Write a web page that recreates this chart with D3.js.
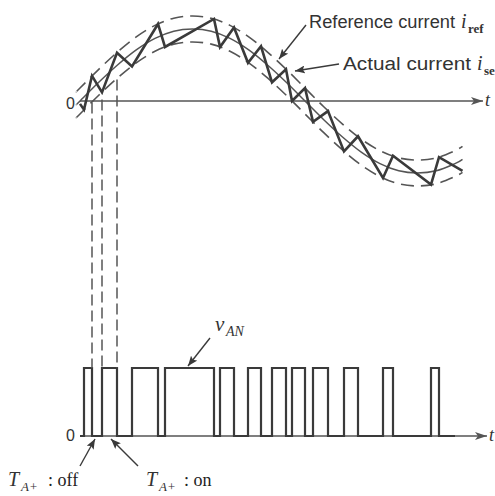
<!DOCTYPE html>
<html><head><meta charset="utf-8">
<script src="https://cdn.jsdelivr.net/npm/d3@7"></script>
<style>body{margin:0;background:#fff}svg{display:block}</style>
</head><body>
<script>
// ---- data ----
// reference current samples (angle in degrees, per-unit current)
const refT = [-3, 0, 15, 30, 45, 60, 75, 90, 105, 120, 135, 150, 165, 180, 195, 210, 225, 240, 255, 270, 285, 300, 306];
const refI = [-0.05, 0, 0.26, 0.50, 0.71, 0.87, 0.97, 1.00, 0.97, 0.87, 0.71, 0.50, 0.26, 0, -0.26, -0.50, -0.71, -0.87, -0.97, -1.00, -0.97, -0.87, -0.81];
const bandHalf = 0.18; // hysteresis half band
// actual current vertices
const actT = [0, 3.2, 9.6, 17.6, 29.6, 41.6, 62.4, 68, 107.2, 112, 123.2, 134.4, 144.8, 153.6, 164.8, 169.6, 180, 186.4, 198.4, 211.2, 222.4, 242.4, 250.4, 280.8, 287.2, 306];
const actI = [-0.04, -0.12, 0.35, 0.12, 0.67, 0.48, 1.07, 0.75, 1.14, 0.75, 1.02, 0.53, 0.76, 0.26, 0.44, 0.00, 0.18, -0.29, -0.14, -0.70, -0.49, -1.07, -0.76, -1.16, -0.78, -0.97];
// switch T_A+ on / off instants (v_AN pulses)
const onT  = [3.2, 17.6, 41.6, 68, 112, 134.4, 153.6, 169.6, 186.4, 211.2, 242.4, 280.8];
const offT = [9.6, 29.6, 62.4, 107.2, 123.2, 144.8, 164.8, 180, 198.4, 222.4, 250.4, 287.2];
// dashed projection lines (instant, starting current level)
const dashT = [9.6, 17.6, 29.6];
const dashFrom = [-0.02, 0.02, 0.3];

const W = 495, H = 496;
const svg = d3.select("body").append("svg").attr("width", W).attr("height", H);
const x = d3.scaleLinear().domain([0, 180]).range([80, 305]);
const yTop = d3.scaleLinear().domain([-1, 1]).range([173, 29]);
const yBot = d3.scaleLinear().domain([0, 1]).range([436, 368]);
const grey = "#555", dark = "#3a3a3a";

const defs = svg.append("defs");
defs.append("marker").attr("id", "axArr").attr("viewBox", "0 0 12 8").attr("refX", 12).attr("refY", 4)
  .attr("markerWidth", 12).attr("markerHeight", 8).attr("markerUnits", "userSpaceOnUse").attr("orient", "auto")
  .append("path").attr("d", "M0,0 L12,4 L0,8 L3,4 Z").attr("fill", grey);
defs.append("marker").attr("id", "annArr").attr("viewBox", "0 0 10 8").attr("refX", 10).attr("refY", 4)
  .attr("markerWidth", 10).attr("markerHeight", 8).attr("markerUnits", "userSpaceOnUse").attr("orient", "auto")
  .append("path").attr("d", "M0,0 L10,4 L0,8 L2,4 Z").attr("fill", dark);

// ---- top: currents ----
const refPts = refT.map((t, k) => [t, refI[k]]);
const curve = d3.line().x(d => x(d[0])).y(d => yTop(d[1])).curve(d3.curveCardinal);
svg.append("path").attr("d", curve(refPts)).attr("fill", "none").attr("stroke", grey).attr("stroke-width", 1.5);
[bandHalf, -bandHalf].forEach(o => {
  svg.append("path").attr("d", curve(refPts.map(p => [p[0], p[1] + o])))
    .attr("fill", "none").attr("stroke", grey).attr("stroke-width", 1.6).attr("stroke-dasharray", "13,7");
});
// top axis
svg.append("line").attr("x1", x(0)).attr("x2", x(322.4)).attr("y1", yTop(0)).attr("y2", yTop(0))
  .attr("stroke", grey).attr("stroke-width", 1.5).attr("marker-end", "url(#axArr)");
// actual current
const lin = d3.line().x(d => x(d[0])).y(d => yTop(d[1]));
svg.append("path").attr("d", lin(actT.map((t, k) => [t, actI[k]])))
  .attr("fill", "none").attr("stroke", dark).attr("stroke-width", 2.6).attr("stroke-linejoin", "miter");

// ---- bottom: v_AN ----
svg.append("line").attr("x1", x(0)).attr("x2", x(325.6)).attr("y1", yBot(0)).attr("y2", yBot(0))
  .attr("stroke", grey).attr("stroke-width", 1.5).attr("marker-end", "url(#axArr)");
const pulsePts = [[0, 0]];
onT.forEach((t, k) => { pulsePts.push([t, 0], [t, 1], [offT[k], 1], [offT[k], 0]); });
pulsePts.push([300, 0]);
svg.append("path").attr("d", d3.line().x(d => x(d[0])).y(d => yBot(d[1]))(pulsePts))
  .attr("fill", "none").attr("stroke", dark).attr("stroke-width", 2.2);

// dashed projection lines
dashT.forEach((t, k) => {
  svg.append("line").attr("x1", x(t)).attr("x2", x(t)).attr("y1", yTop(dashFrom[k])).attr("y2", yBot(1))
    .attr("stroke", grey).attr("stroke-width", 1.5).attr("stroke-dasharray", "11,5");
});

// ---- text ----
const sans = "Liberation Sans, Arial, sans-serif", serif = "Liberation Serif, Times New Roman, serif";
function txt(xp, yp, s, o = {}) {
  const t = svg.append("text").attr("x", xp).attr("y", yp).text(s)
    .attr("font-family", o.f || sans).attr("font-size", o.s || 18)
    .attr("font-style", o.i ? "italic" : "normal").attr("font-weight", o.b ? "bold" : "normal")
    .attr("fill", o.c || "#333");
  if (o.len) t.attr("textLength", o.len).attr("lengthAdjust", "spacingAndGlyphs");
  return t;
}
txt(66, 109, "0", {s: 16});
txt(66, 441, "0", {s: 16});
txt(485, 106, "t", {f: serif, i: true, s: 18});
txt(489, 441, "t", {f: serif, i: true, s: 18});

txt(309, 28, "Reference current", {len: 146});
txt(461, 28, "i", {f: serif, i: true, s: 20});
txt(468, 33, "ref", {f: serif, b: true, s: 13});
txt(343, 70, "Actual current", {len: 128});
txt(477, 70, "i", {f: serif, i: true, s: 20});
txt(484, 75, "se", {f: serif, b: true, s: 13});

txt(215, 331, "v", {f: serif, i: true, s: 21});
txt(226, 336, "AN", {f: serif, i: true, s: 14});

txt(8, 486, "T", {f: serif, i: true, s: 20});
txt(21, 491, "A+", {f: serif, i: true, s: 13});
txt(48, 486, ": off", {f: serif, s: 18, c: "#222"});
txt(146, 486, "T", {f: serif, i: true, s: 20});
txt(159, 491, "A+", {f: serif, i: true, s: 13});
txt(184, 486, ": on", {f: serif, s: 18, c: "#222"});

// annotation arrows
const ann = [[306, 25, 279, 59], [339, 64, 295, 71], [210, 338, 188, 366], [80, 466, 95, 439], [138, 466, 111, 439]];
ann.forEach(a => svg.append("line").attr("x1", a[0]).attr("y1", a[1]).attr("x2", a[2]).attr("y2", a[3])
  .attr("stroke", dark).attr("stroke-width", 1.4).attr("marker-end", "url(#annArr)"));
</script>
</body></html>
